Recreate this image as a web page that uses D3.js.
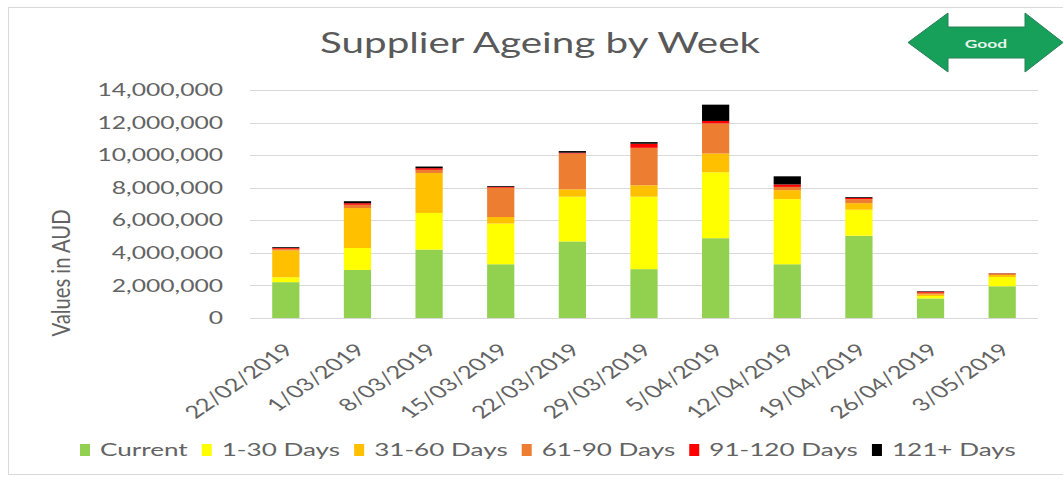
<!DOCTYPE html>
<html>
<head>
<meta charset="utf-8">
<script src="https://cdn.jsdelivr.net/npm/d3@7"></script>
<style>
  html, body { margin: 0; padding: 0; background: #fff; }
  svg { display: block; }
  text { font-family: Lato, "Noto Sans", sans-serif; }
</style>
</head>
<body>
<svg id="chart" width="1063" height="479"></svg>
<script>
// ---- Data ----
const weeks = ["22/02/2019","1/03/2019","8/03/2019","15/03/2019","22/03/2019","29/03/2019","5/04/2019","12/04/2019","19/04/2019","26/04/2019","3/05/2019"];
const seriesNames = ["Current","1-30 Days","31-60 Days","61-90 Days","91-120 Days","121+ Days"];
const current   = [2200000, 2950000, 4200000, 3300000, 4700000, 3000000, 4900000, 3300000, 5050000, 1200000, 1950000];
const days1_30  = [ 300000, 1350000, 2250000, 2500000, 2750000, 4450000, 4050000, 4000000, 1600000,  150000,  570000];
const days31_60 = [1650000, 2450000, 2450000,  400000,  450000,  700000, 1150000,  550000,  400000,  100000,  120000];
const days61_90 = [ 100000,  200000,  200000, 1800000, 2200000, 2300000, 1850000,  200000,  250000,  100000,  100000];
const days91_120= [  50000,  100000,  100000,   50000,   50000,  250000,  150000,  150000,   70000,   70000,   10000];
const days121   = [  50000,  120000,  100000,   50000,  100000,  100000, 1000000,  500000,   50000,   30000,   10000];
const yTicks = [0, 2000000, 4000000, 6000000, 8000000, 10000000, 12000000, 14000000];
const colors = ["#92D050","#FFFF00","#FFC000","#ED7D31","#FF0000","#000000"];

const seriesValues = [current, days1_30, days31_60, days61_90, days91_120, days121];
const rows = weeks.map((w, i) => {
  const r = { week: w };
  seriesNames.forEach((s, j) => r[s] = seriesValues[j][i]);
  return r;
});

// ---- Layout ----
const SX = 1.45; // horizontal stretch of the reference text
const svg = d3.select("#chart");
const plotLeft = 250, plotRight = 1038, plotTop = 90, plotBottom = 318;
const textCol = "#636363";

// chart border
svg.append("rect").attr("x", 8.5).attr("y", 7.5).attr("width", 1100).attr("height", 467)
  .attr("fill", "none").attr("stroke", "#d9d9d9").attr("stroke-width", 1);

const x = d3.scaleBand().domain(weeks).range([plotLeft, plotRight]).paddingInner(0.62).paddingOuter(0.31);
const y = d3.scaleLinear().domain([0, 14000000]).range([plotBottom, plotTop]);

// gridlines
svg.append("g").selectAll("line").data(yTicks).join("line")
  .attr("x1", plotLeft).attr("x2", plotRight)
  .attr("y1", d => Math.round(y(d)) + 0.5).attr("y2", d => Math.round(y(d)) + 0.5)
  .attr("stroke", "#d9d9d9").attr("stroke-width", 1);

// y tick labels
const fmt = d3.format(",");
svg.append("g").selectAll("g").data(yTicks).join("g")
  .attr("transform", d => `translate(223,${y(d)}) scale(${SX},1)`)
  .append("text")
  .attr("text-anchor", "end").attr("dy", "0.36em")
  .attr("font-size", 17).attr("fill", textCol)
  .text(d => fmt(d));

// stacked bars
const stack = d3.stack().keys(seriesNames);
const stacked = stack(rows);
svg.append("g").selectAll("g").data(stacked).join("g")
  .attr("fill", (d, i) => colors[i])
  .selectAll("rect").data(d => d).join("rect")
  .attr("x", d => x(d.data.week))
  .attr("width", x.bandwidth())
  .attr("y", d => y(d[1]))
  .attr("height", d => y(d[0]) - y(d[1]));

// x labels
svg.append("g").selectAll("g").data(weeks).join("g")
  .attr("transform", d => `translate(${x(d) + x.bandwidth() / 2 + 9},351) scale(${SX},1) rotate(-45)`)
  .append("text")
  .attr("text-anchor", "end")
  .attr("font-size", 17.5).attr("fill", textCol)
  .text(d => d);

// y axis title
svg.append("g").attr("transform", `translate(70,273) scale(${SX},1) rotate(-90)`)
  .append("text").attr("text-anchor", "middle")
  .attr("font-size", 17).attr("fill", textCol)
  .attr("textLength", 127).attr("lengthAdjust", "spacingAndGlyphs")
  .text("Values in AUD");

// title
svg.append("g").attr("transform", `translate(540,53) scale(${SX},1)`)
  .append("text").attr("text-anchor", "middle")
  .attr("font-size", 28).attr("fill", "#595959")
  .attr("textLength", 440 / SX).attr("lengthAdjust", "spacingAndGlyphs")
  .text("Supplier Ageing by Week");

// Good arrow
const arrowPts = [[908,42.5],[948,13],[948,27],[1025,27],[1025,13],[1063,42.5],[1025,72],[1025,58],[948,58],[948,72]];
svg.append("polygon").attr("points", arrowPts.map(p => p.join(",")).join(" "))
  .attr("fill", "#16A05A").attr("stroke", "#2a7f5a").attr("stroke-width", 1);
svg.append("g").attr("transform", `translate(986,48) scale(${SX},1)`)
  .append("text").attr("text-anchor", "middle")
  .attr("font-size", 12).attr("font-weight", "bold").attr("fill", "#e8f5ec")
  .text("Good");

// legend
const legend = svg.append("g");
let lx = 80;
seriesNames.forEach((s, i) => {
  legend.append("rect").attr("x", lx).attr("y", 444).attr("width", 10).attr("height", 12).attr("fill", colors[i]);
  const g = legend.append("g").attr("transform", `translate(${lx + 20},456) scale(${SX},1)`);
  const t = g.append("text").attr("font-size", 18).attr("fill", textCol).text(s);
  const w = t.node().getComputedTextLength() * SX;
  lx += 20 + w + 14;
});
</script>
</body>
</html>
